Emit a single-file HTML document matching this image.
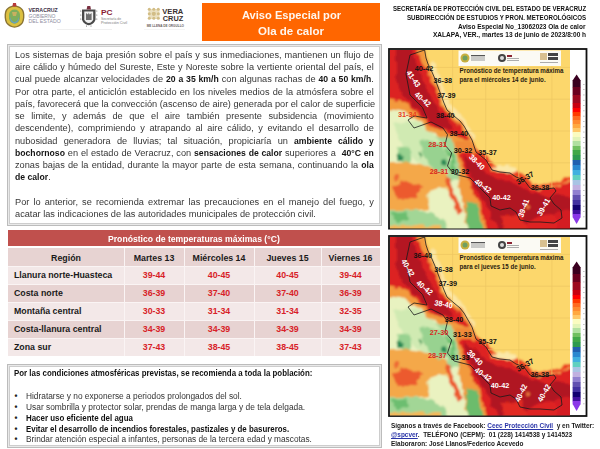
<!DOCTYPE html>
<html><head><meta charset="utf-8"><style>
html,body{margin:0;padding:0;background:#fff;}
body{width:600px;height:449px;position:relative;overflow:hidden;font-family:"Liberation Sans",sans-serif;}
.t{font-family:"Liberation Sans",sans-serif;}
.p b{font-size:9.1px;color:#141414;}
.box{position:absolute;box-sizing:border-box;}
</style></head><body>
<svg style="position:absolute;left:0;top:0" width="200" height="45" viewBox="0 0 200 45">
 <!-- Veracruz shield -->
 <path d="M14.5 5.5 C10 5.5 6 8 5 12 C4.2 15 4.5 20 6 23 C8 26 11.5 27.5 14.5 27.8 C17.5 27.5 21 26 23 23 C24.5 20 24.8 15 24 12 C23 8 19 5.5 14.5 5.5Z" fill="#8a7434"/>
 <path d="M14.5 6.8 C10.5 6.8 7.2 9 6.3 12.5 C5.6 15.3 5.9 19.5 7.2 22.2 C9 25 12 26.3 14.5 26.5 C17 26.3 20 25 21.8 22.2 C23.1 19.5 23.4 15.3 22.7 12.5 C21.8 9 18.5 6.8 14.5 6.8Z" fill="#dcc040"/>
 <path d="M14.5 9.5 C11.5 9.5 9.3 11.5 9 14.5 L9 18.5 C9.4 21.6 11.8 23.5 14.5 23.8 C17.2 23.5 19.6 21.6 20 18.5 L20 14.5 C19.7 11.5 17.5 9.5 14.5 9.5Z" fill="#7fae5c"/>
 <path d="M10 17 C11 20.5 13 22 14.5 22 C16 22 18 20.5 19 17 L19 19 C18.3 22 16.5 23.3 14.5 23.4 C12.5 23.3 10.7 22 10 19Z" fill="#6aa0c0"/>
 <path d="M12 12 L17 12 L16 16 L13 16Z" fill="#c8b060"/>
 <path d="M13 3 L16 3 L16.5 6.5 L12.5 6.5Z" fill="#b83a3a"/>
 <text x="28.5" y="11.8" font-family="Liberation Sans" font-weight="bold" font-size="4.9" fill="#3d3045" textLength="29.3" lengthAdjust="spacingAndGlyphs">VERACRUZ</text>
 <text x="28.5" y="17.6" font-family="Liberation Sans" font-size="5.3" fill="#8e8ca0" textLength="27" lengthAdjust="spacingAndGlyphs">GOBIERNO</text>
 <text x="28.5" y="23.4" font-family="Liberation Sans" font-size="5.3" fill="#8e8ca0" textLength="32.2" lengthAdjust="spacingAndGlyphs">DEL ESTADO</text>
 <!-- PC emblem -->
 <path d="M82 9.5 L95.5 9.5 L95.5 19.5 C95 22.5 92 24.8 88.8 25.3 C85.5 24.8 82.5 22.5 82 19.5Z" fill="#4a4a4a"/>
 <path d="M84.3 11.5 L93.2 11.5 L93.2 19.2 C92.8 21.3 91 22.8 88.8 23.1 C86.5 22.8 84.7 21.3 84.3 19.2Z" fill="#f0f0f0"/>
 <path d="M86 13 L88 14.5 L88.8 12.5 L89.6 14.5 L91.6 13 L91.6 20 L86 20Z" fill="#707070"/>
 <path d="M87.3 6 L90.3 6 L91 9.5 L86.6 9.5Z" fill="#7a3040"/>
 <g fill="#555"><circle cx="80.8" cy="11" r="0.5"/><circle cx="80.8" cy="15" r="0.5"/><circle cx="80.8" cy="19" r="0.5"/><circle cx="96.8" cy="11" r="0.5"/><circle cx="96.8" cy="15" r="0.5"/><circle cx="96.8" cy="19" r="0.5"/><circle cx="86.5" cy="26" r="0.5"/><circle cx="91" cy="26" r="0.5"/></g>
 <text x="101" y="15.2" font-family="Liberation Sans" font-weight="bold" font-size="6.8" fill="#8b2332" textLength="11.6" lengthAdjust="spacingAndGlyphs">PC</text>
 <text x="101" y="20" font-family="Liberation Sans" font-size="3.3" fill="#7a7a7a" textLength="20" lengthAdjust="spacingAndGlyphs">Secretaría de</text>
 <text x="101" y="24" font-family="Liberation Sans" font-size="3.3" fill="#7a7a7a" textLength="26" lengthAdjust="spacingAndGlyphs">Protección Civil</text>
 <!-- VERACRUZ marca -->
 <g fill="#d2bd86">
  <rect x="148.5" y="9" width="11" height="10" fill="#ebe0c0"/>
  <circle cx="149.3" cy="9.3" r="1.5"/><circle cx="153.8" cy="9.3" r="1.5"/><circle cx="158.3" cy="9.3" r="1.5"/>
  <circle cx="149.3" cy="13.8" r="1.5"/><circle cx="153.8" cy="13.8" r="2.1"/><circle cx="158.3" cy="13.8" r="1.5"/>
  <circle cx="149.3" cy="18.3" r="1.5"/><circle cx="153.8" cy="18.3" r="1.5"/><circle cx="158.3" cy="18.3" r="1.5"/>
 </g>
 <text x="162.3" y="13.5" font-family="Liberation Sans" font-weight="bold" font-size="7" fill="#3a3030" textLength="21" lengthAdjust="spacingAndGlyphs">VERA</text>
 <text x="162.8" y="20.5" font-family="Liberation Sans" font-weight="bold" font-size="7" fill="#3a3030" textLength="20.5" lengthAdjust="spacingAndGlyphs">CRUZ</text>
 <text x="146.7" y="27.4" font-family="Liberation Sans" font-weight="bold" font-size="2.8" fill="#6a6060" textLength="37.3" lengthAdjust="spacingAndGlyphs">ME LLENA DE ORGULLO</text>
 <rect x="57" y="29.3" width="55" height="0.6" fill="#e6e6e6"/>
 <rect x="144" y="29.3" width="41" height="0.6" fill="#eeeeee"/>
</svg>

<div class="box" style="left:202px;top:3px;width:178px;height:38px;background:#ff6600;"></div>
<div class="box" style="left:7px;top:44px;width:374.5px;height:182px;border:1px solid #bcbcbc;background:#e9e9e9;"><div class="box" style="left:1px;top:1px;right:1px;bottom:1px;border:1px solid #cdcdcd;background:#fff;"></div></div>
<div class="box" style="left:7px;top:364px;width:374.5px;height:84px;border:1px solid #bcbcbc;background:#e9e9e9;"><div class="box" style="left:1px;top:1px;right:1px;bottom:1px;border:1px solid #cdcdcd;background:#fff;"></div></div>
<div class="box" style="left:8px;top:230px;width:372px;height:16px;background:#c0504d;"></div>
<div class="box" style="left:8px;top:248px;width:372px;height:108px;background:#faf4f4;"></div>
<div class="box" style="left:8px;top:248px;width:116px;height:18px;background:#e7d3d2;"></div>
<div class="box" style="left:125px;top:248px;width:59px;height:18px;background:#e7d3d2;"></div>
<div class="box" style="left:185px;top:248px;width:69px;height:18px;background:#e7d3d2;"></div>
<div class="box" style="left:255px;top:248px;width:66px;height:18px;background:#e7d3d2;"></div>
<div class="box" style="left:322px;top:248px;width:58px;height:18px;background:#e7d3d2;"></div>
<div class="box" style="left:8px;top:267px;width:116px;height:17px;background:#f3e8e8;"></div>
<div class="box" style="left:125px;top:267px;width:59px;height:17px;background:#f3e8e8;"></div>
<div class="box" style="left:185px;top:267px;width:69px;height:17px;background:#f3e8e8;"></div>
<div class="box" style="left:255px;top:267px;width:66px;height:17px;background:#f3e8e8;"></div>
<div class="box" style="left:322px;top:267px;width:58px;height:17px;background:#f3e8e8;"></div>
<div class="box" style="left:8px;top:285px;width:116px;height:17px;background:#e7d3d2;"></div>
<div class="box" style="left:125px;top:285px;width:59px;height:17px;background:#e7d3d2;"></div>
<div class="box" style="left:185px;top:285px;width:69px;height:17px;background:#e7d3d2;"></div>
<div class="box" style="left:255px;top:285px;width:66px;height:17px;background:#e7d3d2;"></div>
<div class="box" style="left:322px;top:285px;width:58px;height:17px;background:#e7d3d2;"></div>
<div class="box" style="left:8px;top:303px;width:116px;height:17px;background:#f3e8e8;"></div>
<div class="box" style="left:125px;top:303px;width:59px;height:17px;background:#f3e8e8;"></div>
<div class="box" style="left:185px;top:303px;width:69px;height:17px;background:#f3e8e8;"></div>
<div class="box" style="left:255px;top:303px;width:66px;height:17px;background:#f3e8e8;"></div>
<div class="box" style="left:322px;top:303px;width:58px;height:17px;background:#f3e8e8;"></div>
<div class="box" style="left:8px;top:321px;width:116px;height:17px;background:#e7d3d2;"></div>
<div class="box" style="left:125px;top:321px;width:59px;height:17px;background:#e7d3d2;"></div>
<div class="box" style="left:185px;top:321px;width:69px;height:17px;background:#e7d3d2;"></div>
<div class="box" style="left:255px;top:321px;width:66px;height:17px;background:#e7d3d2;"></div>
<div class="box" style="left:322px;top:321px;width:58px;height:17px;background:#e7d3d2;"></div>
<div class="box" style="left:8px;top:339px;width:116px;height:17px;background:#f3e8e8;"></div>
<div class="box" style="left:125px;top:339px;width:59px;height:17px;background:#f3e8e8;"></div>
<div class="box" style="left:185px;top:339px;width:69px;height:17px;background:#f3e8e8;"></div>
<div class="box" style="left:255px;top:339px;width:66px;height:17px;background:#f3e8e8;"></div>
<div class="box" style="left:322px;top:339px;width:58px;height:17px;background:#f3e8e8;"></div>
<svg style="position:absolute;left:0;top:0" width="600" height="449" viewBox="0 0 600 449">
<defs><clipPath id="seaclip"><polygon points="425.0,40.0 426.0,58.0 428.0,64.0 432.0,72.0 435.0,79.0 438.0,87.0 441.0,95.0 444.0,103.0 447.0,110.0 454.0,116.0 460.0,121.0 464.0,126.0 468.0,133.0 472.0,140.0 476.0,152.0 486.0,160.0 492.0,170.0 500.0,172.0 510.0,173.0 516.0,177.0 524.0,180.0 530.0,188.0 536.0,190.0 546.0,189.0 554.0,188.0 556.0,191.0 560.0,186.0 570.0,182.0 590.0,180.0 590.0,40.0"/></clipPath><filter id="bl" x="370" y="30" width="230" height="230" filterUnits="userSpaceOnUse"><feTurbulence type="fractalNoise" baseFrequency="0.12" numOctaves="2" seed="3" result="n"/><feDisplacementMap in="SourceGraphic" in2="n" scale="7" xChannelSelector="R" yChannelSelector="G" result="d"/><feGaussianBlur in="d" stdDeviation="0.9"/></filter></defs>
<rect x="389" y="49" width="197.5" height="179.6" fill="#fff" stroke="#111" stroke-width="1.8"/>
<clipPath id="c1"><rect x="390" y="50" width="180" height="178.4"/></clipPath>
<g clip-path="url(#c1)"><g transform="translate(0,0)"><g filter="url(#bl)"><rect x="380" y="40" width="200" height="200" fill="#fcd76c"/>
<polyline points="470.0,140.0 476.0,150.0 486.0,158.0 492.0,167.0 500.0,169.0 510.0,170.0 516.0,174.0 524.0,177.0 530.0,185.0 536.0,187.0 546.0,186.0 554.0,185.0 562.0,182.0 570.0,179.0 576.0,177.0" fill="none" stroke="#ec4424" stroke-width="4"/>
<polygon points="492.0,168.0 500.0,165.0 514.0,166.0 516.0,172.0 500.0,172.0" fill="#fbe8a8" />
<polyline points="431.0,62.0 437.0,77.0 443.0,92.0 449.0,106.0 457.0,116.0 466.0,127.0 474.0,141.0" fill="none" stroke="#fbe6a4" stroke-width="5"/>
<polygon points="380.0,40.0 425.0,44.0 425.0,50.0 428.0,64.0 435.0,79.0 441.0,95.0 447.0,110.0 454.0,116.0 464.0,126.0 472.0,140.0 476.0,152.0 486.0,160.0 492.0,170.0 500.0,172.0 510.0,173.0 516.0,177.0 524.0,180.0 530.0,188.0 536.0,190.0 546.0,189.0 554.0,188.0 562.0,185.0 570.0,182.0 576.0,180.0 580.0,240.0 380.0,240.0" fill="#f39a3c" />
<polygon points="380.0,108.0 405.0,112.0 420.0,122.0 432.0,132.0 445.0,140.0 450.0,150.0 455.0,165.0 458.0,180.0 462.0,200.0 470.0,240.0 380.0,240.0" fill="#e8f2c0" />
<polygon points="380.0,40.0 416.0,40.0 417.0,50.0 423.0,64.0 430.0,79.0 437.0,95.0 444.0,110.0 451.0,117.0 461.0,127.0 469.0,140.0 456.0,136.0 444.0,132.0 432.0,126.0 420.0,116.0 410.0,106.0 400.0,100.0 380.0,97.0" fill="#dc2020" />
<polygon points="396.0,44.0 410.0,44.0 418.0,68.0 425.0,85.0 432.0,100.0 440.0,112.0 450.0,121.0 452.0,130.0 438.0,128.0 424.0,116.0 412.0,104.0 402.0,95.0 396.0,78.0" fill="#b41420" />
<polygon points="462.0,146.0 470.0,146.0 476.0,152.0 486.0,160.0 492.0,170.0 500.0,172.0 510.0,173.0 516.0,177.0 524.0,180.0 530.0,188.0 536.0,190.0 546.0,189.0 554.0,188.0 562.0,185.0 570.0,182.0 580.0,180.0 580.0,240.0 490.0,240.0 480.0,205.0 472.0,190.0 466.0,175.0 462.0,160.0" fill="#de2020" />
<polygon points="468.0,160.0 480.0,168.0 494.0,178.0 510.0,182.0 524.0,188.0 540.0,196.0 560.0,196.0 580.0,198.0 580.0,216.0 560.0,214.0 540.0,216.0 520.0,230.0 500.0,232.0 490.0,215.0 480.0,196.0 472.0,182.0" fill="#b01420" />
<circle cx="528" cy="207" r="2" fill="#f08040"/>
<polygon points="500.0,216.0 520.0,214.0 530.0,230.0 505.0,232.0" fill="#e22a20" />
<polygon points="555.0,212.0 580.0,209.0 580.0,240.0 560.0,240.0" fill="#d41c20" />
<polygon points="454.0,141.0 468.0,141.0 476.0,152.0 470.0,154.0 458.0,153.0" fill="#f08a38" />
<polygon points="458.0,152.0 472.0,152.0 480.0,160.0 486.0,170.0 470.0,175.0 462.0,168.0" fill="#de2020" />
<polygon points="462.0,156.0 474.0,160.0 482.0,170.0 478.0,182.0 470.0,178.0" fill="#b01420" />
<polygon points="436.0,136.0 450.0,138.0 456.0,150.0 458.0,165.0 460.0,180.0 450.0,182.0 440.0,170.0" fill="#a6d89a" />
<polygon points="446.0,150.0 454.0,152.0 456.0,170.0 448.0,172.0" fill="#6cc070" />
<circle cx="446" cy="165" r="2.2" fill="#2a70a0"/>
<polygon points="394.0,124.0 414.0,120.0 430.0,130.0 442.0,144.0 452.0,160.0 448.0,174.0 432.0,170.0 416.0,160.0 402.0,146.0" fill="#d0eab2" />
<polygon points="420.0,140.0 438.0,142.0 448.0,154.0 452.0,168.0 440.0,172.0 426.0,162.0" fill="#98d290" />
<polygon points="398.0,146.0 410.0,148.0 412.0,166.0 402.0,168.0" fill="#98d290" />
<circle cx="400" cy="158" r="2.8" fill="#2a8a55"/>
<circle cx="421" cy="156" r="2" fill="#3a9a58"/>
<circle cx="444" cy="162" r="2.8" fill="#2a8a55"/>
<polygon points="380.0,164.0 410.0,162.0 430.0,166.0 446.0,174.0 450.0,190.0 440.0,208.0 420.0,210.0 380.0,212.0" fill="#f4a848" />
<polygon points="393.0,186.0 405.0,181.0 421.0,186.0 418.0,198.0 398.0,199.0" fill="#ec5a2e" />
<circle cx="397" cy="178" r="3" fill="#ee6a34"/>
<polygon points="428.0,190.0 445.0,186.0 452.0,200.0 450.0,227.0 430.0,227.0" fill="#eaf2c0" />
<polygon points="380.0,212.0 415.0,210.0 435.0,214.0 445.0,222.0 448.0,240.0 380.0,240.0" fill="#a2d696" />
<polygon points="392.0,214.0 404.0,212.0 410.0,220.0 398.0,222.0" fill="#6cbe70" />
<polyline points="446.0,178.0 452.0,192.0 460.0,212.0" fill="none" stroke="#ec5a2e" stroke-width="4.5"/>
<polygon points="380.0,226.0 440.0,225.0 450.0,240.0 380.0,240.0" fill="#f4b858" />
<polygon points="466.0,200.0 478.0,204.0 486.0,240.0 468.0,240.0" fill="#6cbc6c" /></g><g clip-path="url(#seaclip)" stroke="#eec562" stroke-width="0.7"><line x1="452.6" y1="40" x2="452.6" y2="240"/><line x1="485.7" y1="40" x2="485.7" y2="240"/><line x1="518.8" y1="40" x2="518.8" y2="240"/><line x1="551.9" y1="40" x2="551.9" y2="240"/><line x1="380" y1="67.4" x2="580" y2="67.4"/><line x1="380" y1="99.2" x2="580" y2="99.2"/><line x1="380" y1="131" x2="580" y2="131"/><line x1="380" y1="162.8" x2="580" y2="162.8"/><line x1="380" y1="194.6" x2="580" y2="194.6"/><line x1="380" y1="226.4" x2="580" y2="226.4"/></g><polyline points="424.6,50.0 426.0,58.0 428.0,64.0 432.0,72.0 435.0,79.0 438.0,87.0 441.0,95.0 444.0,103.0 447.0,110.0 454.0,116.0 460.0,121.0 464.0,126.0 468.0,133.0 472.0,140.0 476.0,152.0 486.0,160.0 492.0,170.0 500.0,172.0 510.0,173.0 516.0,177.0 524.0,180.0 530.0,188.0 536.0,190.0 546.0,189.0 554.0,188.0 556.0,191.0 556.0,191.0 550.0,198.0 554.0,204.0 561.0,210.0 562.0,218.0 554.0,223.0 540.0,222.0 530.0,222.0 520.0,220.0 516.0,212.0 510.0,208.0 500.0,210.0 491.0,206.0 490.0,198.0 480.0,188.0 470.0,178.0 462.0,176.0 454.0,174.0 447.5,166.0 451.7,153.0 445.0,145.0 447.5,134.6 443.0,128.0 431.0,122.0 414.0,128.0 408.0,120.0 414.0,116.0 427.0,118.0 422.5,107.5 410.0,95.0 406.0,74.0 410.0,55.0 424.6,50.0" fill="none" stroke="#1a1a1a" stroke-width="0.8"/></g></g>
<rect x="458.5" y="50.5" width="102.5" height="15.5" fill="#fbfaf4"/>
<circle cx="465" cy="58" r="4.5" fill="#c8b040"/><circle cx="465" cy="58" r="2.5" fill="#70a060"/>
<rect x="471" y="55" width="14" height="1.3" fill="#555"/><rect x="471" y="57.5" width="14" height="1" fill="#999"/><rect x="471" y="59.5" width="14" height="1" fill="#999"/>
<circle cx="502" cy="58" r="4" fill="#444"/><circle cx="502" cy="58" r="2" fill="#ddd"/>
<rect x="507" y="55" width="5" height="2" fill="#8b2332"/><rect x="507" y="58" width="12" height="0.8" fill="#999"/><rect x="507" y="60" width="12" height="0.8" fill="#999"/>
<rect x="540" y="53" width="7" height="7" fill="#d8c090"/><rect x="548" y="53" width="10" height="3" fill="#444"/><rect x="548" y="57" width="10" height="3" fill="#444"/><rect x="540" y="62" width="18" height="0.8" fill="#999"/>
<text x="459.6" y="73.4" font-family="Liberation Sans" font-weight="bold" font-size="7" fill="#2a1c10" textLength="103.9" lengthAdjust="spacingAndGlyphs">Pronóstico de temperatura máxima</text>
<text x="459.6" y="82.2" font-family="Liberation Sans" font-weight="bold" font-size="7" fill="#2a1c10" textLength="86" lengthAdjust="spacingAndGlyphs">para el miércoles 14 de junio.</text>
<rect x="572.6" y="80" width="8" height="7.3" fill="#3a0020"/>
<rect x="572.6" y="87" width="8" height="8.3" fill="#6a0020"/>
<rect x="572.6" y="95" width="8" height="8.3" fill="#9c0820"/>
<rect x="572.6" y="103" width="8" height="5.3" fill="#c80010"/>
<rect x="572.6" y="108" width="8" height="4.3" fill="#ff0000"/>
<rect x="572.6" y="112" width="8" height="4.3" fill="#ff3a00"/>
<rect x="572.6" y="116" width="8" height="4.3" fill="#ff6a20"/>
<rect x="572.6" y="120" width="8" height="4.3" fill="#ff8a30"/>
<rect x="572.6" y="124" width="8" height="4.3" fill="#ffa840"/>
<rect x="572.6" y="128" width="8" height="4.3" fill="#ffc868"/>
<rect x="572.6" y="132" width="8" height="5.3" fill="#fafcc0"/>
<rect x="572.6" y="137" width="8" height="4.3" fill="#e2f4b8"/>
<rect x="572.6" y="141" width="8" height="5.3" fill="#b0e0a0"/>
<rect x="572.6" y="146" width="8" height="4.3" fill="#70c060"/>
<rect x="572.6" y="150" width="8" height="5.3" fill="#40a848"/>
<rect x="572.6" y="155" width="8" height="5.3" fill="#2c9a50"/>
<rect x="572.6" y="160" width="8" height="5.3" fill="#2060b0"/>
<rect x="572.6" y="165" width="8" height="5.3" fill="#2a88d0"/>
<rect x="572.6" y="170" width="8" height="5.3" fill="#40b0e0"/>
<rect x="572.6" y="175" width="8" height="5.3" fill="#60d0c0"/>
<rect x="572.6" y="180" width="8" height="5.3" fill="#a8c4e4"/>
<rect x="572.6" y="185" width="8" height="5.3" fill="#c0b0e0"/>
<rect x="572.6" y="190" width="8" height="5.3" fill="#9080d0"/>
<rect x="572.6" y="195" width="8" height="5.3" fill="#6050b0"/>
<rect x="572.6" y="200" width="8" height="5.3" fill="#4030a0"/>
<rect x="572.6" y="205" width="8" height="5.3" fill="#100070"/>
<rect x="572.6" y="210" width="8" height="4.3" fill="#4010a0"/>
<rect x="572.6" y="214" width="8" height="3.3" fill="#8a38e8"/>
<polygon points="572.6,80.5 576.6,74.4 580.6,80.5" fill="#3a0020"/>
<polygon points="572.6,217 580.6,217 576.6,224" fill="#8a38e8"/>
<rect x="583" y="84.0" width="1.6" height="0.7" fill="#aaa"/>
<rect x="583" y="89.3" width="1.6" height="0.7" fill="#aaa"/>
<rect x="583" y="94.6" width="1.6" height="0.7" fill="#aaa"/>
<rect x="583" y="99.9" width="1.6" height="0.7" fill="#aaa"/>
<rect x="583" y="105.2" width="1.6" height="0.7" fill="#aaa"/>
<rect x="583" y="110.5" width="1.6" height="0.7" fill="#aaa"/>
<rect x="583" y="115.8" width="1.6" height="0.7" fill="#aaa"/>
<rect x="583" y="121.1" width="1.6" height="0.7" fill="#aaa"/>
<rect x="583" y="126.4" width="1.6" height="0.7" fill="#aaa"/>
<rect x="583" y="131.7" width="1.6" height="0.7" fill="#aaa"/>
<rect x="583" y="137.0" width="1.6" height="0.7" fill="#aaa"/>
<rect x="583" y="142.3" width="1.6" height="0.7" fill="#aaa"/>
<rect x="583" y="147.6" width="1.6" height="0.7" fill="#aaa"/>
<rect x="583" y="152.89999999999998" width="1.6" height="0.7" fill="#aaa"/>
<rect x="583" y="158.2" width="1.6" height="0.7" fill="#aaa"/>
<rect x="583" y="163.5" width="1.6" height="0.7" fill="#aaa"/>
<rect x="583" y="168.8" width="1.6" height="0.7" fill="#aaa"/>
<rect x="583" y="174.1" width="1.6" height="0.7" fill="#aaa"/>
<rect x="583" y="179.39999999999998" width="1.6" height="0.7" fill="#aaa"/>
<rect x="583" y="184.7" width="1.6" height="0.7" fill="#aaa"/>
<rect x="583" y="190.0" width="1.6" height="0.7" fill="#aaa"/>
<rect x="583" y="195.3" width="1.6" height="0.7" fill="#aaa"/>
<rect x="583" y="200.6" width="1.6" height="0.7" fill="#aaa"/>
<rect x="583" y="205.89999999999998" width="1.6" height="0.7" fill="#aaa"/>
<rect x="583" y="211.2" width="1.6" height="0.7" fill="#aaa"/>
<rect x="583" y="216.5" width="1.6" height="0.7" fill="#aaa"/>
<text x="414.7" y="71.3" font-family="Liberation Sans" font-weight="bold" font-size="7.8" fill="#111" textLength="18.6" lengthAdjust="spacingAndGlyphs">40-42</text>
<text x="433.5" y="83.2" font-family="Liberation Sans" font-weight="bold" font-size="7.8" fill="#111" textLength="18.6" lengthAdjust="spacingAndGlyphs">36-38</text>
<text x="437.0" y="98.3" font-family="Liberation Sans" font-weight="bold" font-size="7.8" fill="#111" textLength="18.6" lengthAdjust="spacingAndGlyphs">37-39</text>
<text x="436.0" y="118.4" font-family="Liberation Sans" font-weight="bold" font-size="7.8" fill="#111" textLength="18.6" lengthAdjust="spacingAndGlyphs">38-40</text>
<text x="449.5" y="135.8" font-family="Liberation Sans" font-weight="bold" font-size="7.8" fill="#111" textLength="18.6" lengthAdjust="spacingAndGlyphs">38-40</text>
<text x="404.3" y="81.5" font-family="Liberation Sans" font-weight="bold" font-size="7.8" fill="#fff" textLength="18.6" lengthAdjust="spacingAndGlyphs" transform="rotate(55 413.6 78.7)">41-43</text>
<text x="413.5" y="102.0" font-family="Liberation Sans" font-weight="bold" font-size="7.8" fill="#fff" textLength="18.6" lengthAdjust="spacingAndGlyphs" transform="rotate(40 422.8 99.2)">40-42</text>
<text x="398.0" y="117.4" font-family="Liberation Sans" font-weight="bold" font-size="7.8" fill="#e8401e" textLength="18.6" lengthAdjust="spacingAndGlyphs">31-34</text>
<text x="428.2" y="146.5" font-family="Liberation Sans" font-weight="bold" font-size="7.8" fill="#d8281e" textLength="18.6" lengthAdjust="spacingAndGlyphs">28-31</text>
<text x="453.7" y="152.5" font-family="Liberation Sans" font-weight="bold" font-size="7.8" fill="#111" textLength="18.6" lengthAdjust="spacingAndGlyphs">30-32</text>
<text x="429.7" y="173.8" font-family="Liberation Sans" font-weight="bold" font-size="7.8" fill="#d8281e" textLength="18.6" lengthAdjust="spacingAndGlyphs">28-31</text>
<text x="450.7" y="173.8" font-family="Liberation Sans" font-weight="bold" font-size="7.8" fill="#111" textLength="18.6" lengthAdjust="spacingAndGlyphs">30-32</text>
<text x="467.7" y="164.8" font-family="Liberation Sans" font-weight="bold" font-size="7.8" fill="#fff" textLength="18.6" lengthAdjust="spacingAndGlyphs" transform="rotate(45 477 162)">38-40</text>
<text x="478.2" y="154.8" font-family="Liberation Sans" font-weight="bold" font-size="7.8" fill="#111" textLength="18.6" lengthAdjust="spacingAndGlyphs">35-37</text>
<text x="473.7" y="188.5" font-family="Liberation Sans" font-weight="bold" font-size="7.8" fill="#fff" textLength="18.6" lengthAdjust="spacingAndGlyphs" transform="rotate(35 483 185.7)">40-42</text>
<text x="492.2" y="199.8" font-family="Liberation Sans" font-weight="bold" font-size="7.8" fill="#fff" textLength="18.6" lengthAdjust="spacingAndGlyphs">40-42</text>
<text x="514.2" y="210.8" font-family="Liberation Sans" font-weight="bold" font-size="7.8" fill="#fff" textLength="18.6" lengthAdjust="spacingAndGlyphs" transform="rotate(-70 523.5 208)">39-41</text>
<text x="534.2" y="209.8" font-family="Liberation Sans" font-weight="bold" font-size="7.8" fill="#fff" textLength="18.6" lengthAdjust="spacingAndGlyphs" transform="rotate(-60 543.5 207)">39-41</text>
<text x="515.7" y="180.8" font-family="Liberation Sans" font-weight="bold" font-size="7.8" fill="#111" textLength="18.6" lengthAdjust="spacingAndGlyphs" transform="rotate(-30 525 178)">36-37</text>
<text x="530.7" y="189.8" font-family="Liberation Sans" font-weight="bold" font-size="7.8" fill="#111" textLength="18.6" lengthAdjust="spacingAndGlyphs">36-38</text>
<rect x="389" y="236" width="197.5" height="180" fill="#fff" stroke="#111" stroke-width="1.8"/>
<clipPath id="c2"><rect x="390" y="237" width="180" height="178.4"/></clipPath>
<g clip-path="url(#c2)"><g transform="translate(0,187)"><g filter="url(#bl)"><rect x="380" y="40" width="200" height="200" fill="#fcd76c"/>
<polyline points="470.0,140.0 476.0,150.0 486.0,158.0 492.0,167.0 500.0,169.0 510.0,170.0 516.0,174.0 524.0,177.0 530.0,185.0 536.0,187.0 546.0,186.0 554.0,185.0 562.0,182.0 570.0,179.0 576.0,177.0" fill="none" stroke="#ec4424" stroke-width="4"/>
<polygon points="492.0,168.0 500.0,165.0 514.0,166.0 516.0,172.0 500.0,172.0" fill="#fbe8a8" />
<polyline points="431.0,62.0 437.0,77.0 443.0,92.0 449.0,106.0 457.0,116.0 466.0,127.0 474.0,141.0" fill="none" stroke="#fbe6a4" stroke-width="5"/>
<polygon points="380.0,40.0 425.0,44.0 425.0,50.0 428.0,64.0 435.0,79.0 441.0,95.0 447.0,110.0 454.0,116.0 464.0,126.0 472.0,140.0 476.0,152.0 486.0,160.0 492.0,170.0 500.0,172.0 510.0,173.0 516.0,177.0 524.0,180.0 530.0,188.0 536.0,190.0 546.0,189.0 554.0,188.0 562.0,185.0 570.0,182.0 576.0,180.0 580.0,240.0 380.0,240.0" fill="#f39a3c" />
<polygon points="380.0,108.0 405.0,112.0 420.0,122.0 432.0,132.0 445.0,140.0 450.0,150.0 455.0,165.0 458.0,180.0 462.0,200.0 470.0,240.0 380.0,240.0" fill="#e8f2c0" />
<polygon points="380.0,40.0 416.0,40.0 417.0,50.0 423.0,64.0 430.0,79.0 437.0,95.0 444.0,110.0 451.0,117.0 461.0,127.0 469.0,140.0 456.0,136.0 444.0,132.0 432.0,126.0 420.0,116.0 410.0,106.0 400.0,100.0 380.0,97.0" fill="#dc2020" />
<polygon points="396.0,44.0 410.0,44.0 418.0,68.0 425.0,85.0 432.0,100.0 440.0,112.0 450.0,121.0 452.0,130.0 438.0,128.0 424.0,116.0 412.0,104.0 402.0,95.0 396.0,78.0" fill="#b41420" />
<polygon points="462.0,146.0 470.0,146.0 476.0,152.0 486.0,160.0 492.0,170.0 500.0,172.0 510.0,173.0 516.0,177.0 524.0,180.0 530.0,188.0 536.0,190.0 546.0,189.0 554.0,188.0 562.0,185.0 570.0,182.0 580.0,180.0 580.0,240.0 490.0,240.0 480.0,205.0 472.0,190.0 466.0,175.0 462.0,160.0" fill="#de2020" />
<polygon points="468.0,160.0 480.0,168.0 494.0,178.0 510.0,182.0 524.0,188.0 540.0,196.0 560.0,196.0 580.0,198.0 580.0,216.0 560.0,214.0 540.0,216.0 520.0,230.0 500.0,232.0 490.0,215.0 480.0,196.0 472.0,182.0" fill="#b01420" />
<circle cx="528" cy="207" r="2" fill="#f08040"/>
<polygon points="500.0,216.0 520.0,214.0 530.0,230.0 505.0,232.0" fill="#e22a20" />
<polygon points="555.0,212.0 580.0,209.0 580.0,240.0 560.0,240.0" fill="#d41c20" />
<polygon points="454.0,141.0 468.0,141.0 476.0,152.0 470.0,154.0 458.0,153.0" fill="#f08a38" />
<polygon points="458.0,152.0 472.0,152.0 480.0,160.0 486.0,170.0 470.0,175.0 462.0,168.0" fill="#de2020" />
<polygon points="462.0,156.0 474.0,160.0 482.0,170.0 478.0,182.0 470.0,178.0" fill="#b01420" />
<polygon points="436.0,136.0 450.0,138.0 456.0,150.0 458.0,165.0 460.0,180.0 450.0,182.0 440.0,170.0" fill="#a6d89a" />
<polygon points="446.0,150.0 454.0,152.0 456.0,170.0 448.0,172.0" fill="#6cc070" />
<circle cx="446" cy="165" r="2.2" fill="#2a70a0"/>
<polygon points="394.0,124.0 414.0,120.0 430.0,130.0 442.0,144.0 452.0,160.0 448.0,174.0 432.0,170.0 416.0,160.0 402.0,146.0" fill="#d0eab2" />
<polygon points="420.0,140.0 438.0,142.0 448.0,154.0 452.0,168.0 440.0,172.0 426.0,162.0" fill="#98d290" />
<polygon points="398.0,146.0 410.0,148.0 412.0,166.0 402.0,168.0" fill="#98d290" />
<circle cx="400" cy="158" r="2.8" fill="#2a8a55"/>
<circle cx="421" cy="156" r="2" fill="#3a9a58"/>
<circle cx="444" cy="162" r="2.8" fill="#2a8a55"/>
<polygon points="380.0,164.0 410.0,162.0 430.0,166.0 446.0,174.0 450.0,190.0 440.0,208.0 420.0,210.0 380.0,212.0" fill="#f4a848" />
<polygon points="393.0,186.0 405.0,181.0 421.0,186.0 418.0,198.0 398.0,199.0" fill="#ec5a2e" />
<circle cx="397" cy="178" r="3" fill="#ee6a34"/>
<polygon points="428.0,190.0 445.0,186.0 452.0,200.0 450.0,227.0 430.0,227.0" fill="#eaf2c0" />
<polygon points="380.0,212.0 415.0,210.0 435.0,214.0 445.0,222.0 448.0,240.0 380.0,240.0" fill="#a2d696" />
<polygon points="392.0,214.0 404.0,212.0 410.0,220.0 398.0,222.0" fill="#6cbe70" />
<polyline points="446.0,178.0 452.0,192.0 460.0,212.0" fill="none" stroke="#ec5a2e" stroke-width="4.5"/>
<polygon points="380.0,226.0 440.0,225.0 450.0,240.0 380.0,240.0" fill="#f4b858" />
<polygon points="466.0,200.0 478.0,204.0 486.0,240.0 468.0,240.0" fill="#6cbc6c" /></g><g clip-path="url(#seaclip)" stroke="#eec562" stroke-width="0.7"><line x1="452.6" y1="40" x2="452.6" y2="240"/><line x1="485.7" y1="40" x2="485.7" y2="240"/><line x1="518.8" y1="40" x2="518.8" y2="240"/><line x1="551.9" y1="40" x2="551.9" y2="240"/><line x1="380" y1="67.4" x2="580" y2="67.4"/><line x1="380" y1="99.2" x2="580" y2="99.2"/><line x1="380" y1="131" x2="580" y2="131"/><line x1="380" y1="162.8" x2="580" y2="162.8"/><line x1="380" y1="194.6" x2="580" y2="194.6"/><line x1="380" y1="226.4" x2="580" y2="226.4"/></g><polyline points="424.6,50.0 426.0,58.0 428.0,64.0 432.0,72.0 435.0,79.0 438.0,87.0 441.0,95.0 444.0,103.0 447.0,110.0 454.0,116.0 460.0,121.0 464.0,126.0 468.0,133.0 472.0,140.0 476.0,152.0 486.0,160.0 492.0,170.0 500.0,172.0 510.0,173.0 516.0,177.0 524.0,180.0 530.0,188.0 536.0,190.0 546.0,189.0 554.0,188.0 556.0,191.0 556.0,191.0 550.0,198.0 554.0,204.0 561.0,210.0 562.0,218.0 554.0,223.0 540.0,222.0 530.0,222.0 520.0,220.0 516.0,212.0 510.0,208.0 500.0,210.0 491.0,206.0 490.0,198.0 480.0,188.0 470.0,178.0 462.0,176.0 454.0,174.0 447.5,166.0 451.7,153.0 445.0,145.0 447.5,134.6 443.0,128.0 431.0,122.0 414.0,128.0 408.0,120.0 414.0,116.0 427.0,118.0 422.5,107.5 410.0,95.0 406.0,74.0 410.0,55.0 424.6,50.0" fill="none" stroke="#1a1a1a" stroke-width="0.8"/></g></g>
<rect x="458.5" y="237.5" width="102.5" height="15.5" fill="#fbfaf4"/>
<circle cx="465" cy="245" r="4.5" fill="#c8b040"/><circle cx="465" cy="245" r="2.5" fill="#70a060"/>
<rect x="471" y="242" width="14" height="1.3" fill="#555"/><rect x="471" y="244.5" width="14" height="1" fill="#999"/><rect x="471" y="246.5" width="14" height="1" fill="#999"/>
<circle cx="502" cy="245" r="4" fill="#444"/><circle cx="502" cy="245" r="2" fill="#ddd"/>
<rect x="507" y="242" width="5" height="2" fill="#8b2332"/><rect x="507" y="245" width="12" height="0.8" fill="#999"/><rect x="507" y="247" width="12" height="0.8" fill="#999"/>
<rect x="540" y="240" width="7" height="7" fill="#d8c090"/><rect x="548" y="240" width="10" height="3" fill="#444"/><rect x="548" y="244" width="10" height="3" fill="#444"/><rect x="540" y="249" width="18" height="0.8" fill="#999"/>
<text x="459.6" y="260.4" font-family="Liberation Sans" font-weight="bold" font-size="7" fill="#2a1c10" textLength="103.9" lengthAdjust="spacingAndGlyphs">Pronóstico de temperatura máxima</text>
<text x="459.6" y="269.2" font-family="Liberation Sans" font-weight="bold" font-size="7" fill="#2a1c10" textLength="76" lengthAdjust="spacingAndGlyphs">para el jueves 15 de junio.</text>
<rect x="572.6" y="267" width="8" height="7.3" fill="#3a0020"/>
<rect x="572.6" y="274" width="8" height="8.3" fill="#6a0020"/>
<rect x="572.6" y="282" width="8" height="8.3" fill="#9c0820"/>
<rect x="572.6" y="290" width="8" height="5.3" fill="#c80010"/>
<rect x="572.6" y="295" width="8" height="4.3" fill="#ff0000"/>
<rect x="572.6" y="299" width="8" height="4.3" fill="#ff3a00"/>
<rect x="572.6" y="303" width="8" height="4.3" fill="#ff6a20"/>
<rect x="572.6" y="307" width="8" height="4.3" fill="#ff8a30"/>
<rect x="572.6" y="311" width="8" height="4.3" fill="#ffa840"/>
<rect x="572.6" y="315" width="8" height="4.3" fill="#ffc868"/>
<rect x="572.6" y="319" width="8" height="5.3" fill="#fafcc0"/>
<rect x="572.6" y="324" width="8" height="4.3" fill="#e2f4b8"/>
<rect x="572.6" y="328" width="8" height="5.3" fill="#b0e0a0"/>
<rect x="572.6" y="333" width="8" height="4.3" fill="#70c060"/>
<rect x="572.6" y="337" width="8" height="5.3" fill="#40a848"/>
<rect x="572.6" y="342" width="8" height="5.3" fill="#2c9a50"/>
<rect x="572.6" y="347" width="8" height="5.3" fill="#2060b0"/>
<rect x="572.6" y="352" width="8" height="5.3" fill="#2a88d0"/>
<rect x="572.6" y="357" width="8" height="5.3" fill="#40b0e0"/>
<rect x="572.6" y="362" width="8" height="5.3" fill="#60d0c0"/>
<rect x="572.6" y="367" width="8" height="5.3" fill="#a8c4e4"/>
<rect x="572.6" y="372" width="8" height="5.3" fill="#c0b0e0"/>
<rect x="572.6" y="377" width="8" height="5.3" fill="#9080d0"/>
<rect x="572.6" y="382" width="8" height="5.3" fill="#6050b0"/>
<rect x="572.6" y="387" width="8" height="5.3" fill="#4030a0"/>
<rect x="572.6" y="392" width="8" height="5.3" fill="#100070"/>
<rect x="572.6" y="397" width="8" height="4.3" fill="#4010a0"/>
<rect x="572.6" y="401" width="8" height="3.3" fill="#8a38e8"/>
<polygon points="572.6,267.5 576.6,261.4 580.6,267.5" fill="#3a0020"/>
<polygon points="572.6,404 580.6,404 576.6,411" fill="#8a38e8"/>
<rect x="583" y="271.0" width="1.6" height="0.7" fill="#aaa"/>
<rect x="583" y="276.3" width="1.6" height="0.7" fill="#aaa"/>
<rect x="583" y="281.6" width="1.6" height="0.7" fill="#aaa"/>
<rect x="583" y="286.9" width="1.6" height="0.7" fill="#aaa"/>
<rect x="583" y="292.2" width="1.6" height="0.7" fill="#aaa"/>
<rect x="583" y="297.5" width="1.6" height="0.7" fill="#aaa"/>
<rect x="583" y="302.8" width="1.6" height="0.7" fill="#aaa"/>
<rect x="583" y="308.1" width="1.6" height="0.7" fill="#aaa"/>
<rect x="583" y="313.4" width="1.6" height="0.7" fill="#aaa"/>
<rect x="583" y="318.7" width="1.6" height="0.7" fill="#aaa"/>
<rect x="583" y="324.0" width="1.6" height="0.7" fill="#aaa"/>
<rect x="583" y="329.3" width="1.6" height="0.7" fill="#aaa"/>
<rect x="583" y="334.6" width="1.6" height="0.7" fill="#aaa"/>
<rect x="583" y="339.9" width="1.6" height="0.7" fill="#aaa"/>
<rect x="583" y="345.2" width="1.6" height="0.7" fill="#aaa"/>
<rect x="583" y="350.5" width="1.6" height="0.7" fill="#aaa"/>
<rect x="583" y="355.8" width="1.6" height="0.7" fill="#aaa"/>
<rect x="583" y="361.1" width="1.6" height="0.7" fill="#aaa"/>
<rect x="583" y="366.4" width="1.6" height="0.7" fill="#aaa"/>
<rect x="583" y="371.7" width="1.6" height="0.7" fill="#aaa"/>
<rect x="583" y="377.0" width="1.6" height="0.7" fill="#aaa"/>
<rect x="583" y="382.3" width="1.6" height="0.7" fill="#aaa"/>
<rect x="583" y="387.6" width="1.6" height="0.7" fill="#aaa"/>
<rect x="583" y="392.9" width="1.6" height="0.7" fill="#aaa"/>
<rect x="583" y="398.2" width="1.6" height="0.7" fill="#aaa"/>
<rect x="583" y="403.5" width="1.6" height="0.7" fill="#aaa"/>
<text x="413.4" y="257.8" font-family="Liberation Sans" font-weight="bold" font-size="7.8" fill="#111" textLength="18.6" lengthAdjust="spacingAndGlyphs">36-40</text>
<text x="398.7" y="270.4" font-family="Liberation Sans" font-weight="bold" font-size="7.8" fill="#fff" textLength="18.6" lengthAdjust="spacingAndGlyphs" transform="rotate(60 408 267.6)">40-42</text>
<text x="434.3" y="271.6" font-family="Liberation Sans" font-weight="bold" font-size="7.8" fill="#111" textLength="18.6" lengthAdjust="spacingAndGlyphs">36-38</text>
<text x="415.4" y="290.4" font-family="Liberation Sans" font-weight="bold" font-size="7.8" fill="#fff" textLength="18.6" lengthAdjust="spacingAndGlyphs" transform="rotate(40 424.7 287.6)">40-42</text>
<text x="438.5" y="285.8" font-family="Liberation Sans" font-weight="bold" font-size="7.8" fill="#111" textLength="18.6" lengthAdjust="spacingAndGlyphs">37-39</text>
<text x="434.3" y="306.8" font-family="Liberation Sans" font-weight="bold" font-size="7.8" fill="#fff" textLength="18.6" lengthAdjust="spacingAndGlyphs" transform="rotate(10 443.6 304)">38-40</text>
<text x="444.7" y="321.8" font-family="Liberation Sans" font-weight="bold" font-size="7.8" fill="#111" textLength="18.6" lengthAdjust="spacingAndGlyphs">38-40</text>
<text x="429.7" y="335.2" font-family="Liberation Sans" font-weight="bold" font-size="7.8" fill="#d8281e" textLength="18.6" lengthAdjust="spacingAndGlyphs">27-30</text>
<text x="453.1" y="337.3" font-family="Liberation Sans" font-weight="bold" font-size="7.8" fill="#111" textLength="18.6" lengthAdjust="spacingAndGlyphs">31-33</text>
<text x="478.2" y="344.4" font-family="Liberation Sans" font-weight="bold" font-size="7.8" fill="#111" textLength="18.6" lengthAdjust="spacingAndGlyphs">35-37</text>
<text x="428.0" y="358.2" font-family="Liberation Sans" font-weight="bold" font-size="7.8" fill="#d8281e" textLength="18.6" lengthAdjust="spacingAndGlyphs">28-37</text>
<text x="451.0" y="359.5" font-family="Liberation Sans" font-weight="bold" font-size="7.8" fill="#111" textLength="18.6" lengthAdjust="spacingAndGlyphs">31-33</text>
<text x="465.7" y="360.3" font-family="Liberation Sans" font-weight="bold" font-size="7.8" fill="#fff" textLength="18.6" lengthAdjust="spacingAndGlyphs" transform="rotate(45 475 357.5)">38-40</text>
<text x="474.0" y="377.1" font-family="Liberation Sans" font-weight="bold" font-size="7.8" fill="#fff" textLength="18.6" lengthAdjust="spacingAndGlyphs" transform="rotate(35 483.3 374.3)">40-42</text>
<text x="490.7" y="387.5" font-family="Liberation Sans" font-weight="bold" font-size="7.8" fill="#fff" textLength="18.6" lengthAdjust="spacingAndGlyphs">40-42</text>
<text x="515.7" y="367.8" font-family="Liberation Sans" font-weight="bold" font-size="7.8" fill="#111" textLength="18.6" lengthAdjust="spacingAndGlyphs" transform="rotate(-30 525 365)">36-37</text>
<text x="530.5" y="377.1" font-family="Liberation Sans" font-weight="bold" font-size="7.8" fill="#111" textLength="18.6" lengthAdjust="spacingAndGlyphs">36-38</text>
<text x="511.7" y="395.8" font-family="Liberation Sans" font-weight="bold" font-size="7.8" fill="#fff" textLength="18.6" lengthAdjust="spacingAndGlyphs" transform="rotate(-65 521 393)">40-42</text>
<text x="534.7" y="395.8" font-family="Liberation Sans" font-weight="bold" font-size="7.8" fill="#fff" textLength="18.6" lengthAdjust="spacingAndGlyphs" transform="rotate(-60 544 393)">40-42</text>
</svg>
<div class="t" style="position:absolute;top:5.17px;font-size:7.0px;line-height:7.0px;white-space:nowrap;color:#111;font-weight:bold;left:392.7px;transform-origin:0 0;transform:scaleX(0.8634);"><span>SECRETARÍA DE PROTECCIÓN CIVIL DEL ESTADO DE VERACRUZ</span></div>
<div class="t" style="position:absolute;top:13.67px;font-size:7.0px;line-height:7.0px;white-space:nowrap;color:#111;font-weight:bold;left:406.7px;transform-origin:0 0;transform:scaleX(0.8799);"><span>SUBDIRECCIÓN DE ESTUDIOS Y PRON. METEOROLÓGICOS</span></div>
<div class="t" style="position:absolute;top:22.97px;font-size:7.0px;line-height:7.0px;white-space:nowrap;color:#111;font-weight:bold;left:458.4px;transform-origin:0 0;transform:scaleX(0.9267);"><span>Aviso Especial No_13062023 Ola de calor</span></div>
<div class="t" style="position:absolute;top:31.27px;font-size:7.0px;line-height:7.0px;white-space:nowrap;color:#111;font-weight:bold;left:432.7px;transform-origin:0 0;transform:scaleX(0.9355);"><span>XALAPA, VER., martes 13 de junio de 2023/8:00 h</span></div>
<div class="t" style="position:absolute;top:9.99px;font-size:11px;line-height:11px;white-space:nowrap;color:#fff6ee;font-weight:bold;left:241.6px;transform-origin:0 0;transform:scaleX(1.0099);"><span>Aviso Especial por</span></div>
<div class="t" style="position:absolute;top:25.69px;font-size:11px;line-height:11px;white-space:nowrap;color:#fff6ee;font-weight:bold;left:258px;transform-origin:0 0;transform:scaleX(1.0479);"><span>Ola de calor</span></div>
<div class="t p" style="position:absolute;top:49.79px;font-size:9.7px;line-height:9.7px;white-space:nowrap;color:#363636;left:14.5px;width:377.68px;text-align:justify;text-align-last:justify;transform-origin:0 0;transform:scaleX(0.95);"><span>Los sistemas de baja presión sobre el país y sus inmediaciones, mantienen un flujo de</span></div>
<div class="t p" style="position:absolute;top:62.04px;font-size:9.7px;line-height:9.7px;white-space:nowrap;color:#363636;left:14.5px;width:377.68px;text-align:justify;text-align-last:justify;transform-origin:0 0;transform:scaleX(0.95);"><span>aire cálido y húmedo del Sureste, Este y Noreste sobre la vertiente oriental del país, el</span></div>
<div class="t p" style="position:absolute;top:74.29px;font-size:9.7px;line-height:9.7px;white-space:nowrap;color:#363636;left:14.5px;width:377.68px;text-align:justify;text-align-last:justify;transform-origin:0 0;transform:scaleX(0.95);"><span>cual puede alcanzar velocidades de <b>20 a 35 km/h</b> con algunas rachas de <b>40 a 50 km/h</b>.</span></div>
<div class="t p" style="position:absolute;top:86.54px;font-size:9.7px;line-height:9.7px;white-space:nowrap;color:#363636;left:14.5px;width:377.68px;text-align:justify;text-align-last:justify;transform-origin:0 0;transform:scaleX(0.95);"><span>Por otra parte, el anticiclón establecido en los niveles medios de la atmósfera sobre el</span></div>
<div class="t p" style="position:absolute;top:98.79px;font-size:9.7px;line-height:9.7px;white-space:nowrap;color:#363636;left:14.5px;width:377.68px;text-align:justify;text-align-last:justify;transform-origin:0 0;transform:scaleX(0.95);"><span>país, favorecerá que la convección (ascenso de aire) generada por el calor de superficie</span></div>
<div class="t p" style="position:absolute;top:111.04px;font-size:9.7px;line-height:9.7px;white-space:nowrap;color:#363636;left:14.5px;width:377.68px;text-align:justify;text-align-last:justify;transform-origin:0 0;transform:scaleX(0.95);"><span>se limite, y además de que el aire también presente subsidencia (movimiento</span></div>
<div class="t p" style="position:absolute;top:123.29px;font-size:9.7px;line-height:9.7px;white-space:nowrap;color:#363636;left:14.5px;width:377.68px;text-align:justify;text-align-last:justify;transform-origin:0 0;transform:scaleX(0.95);"><span>descendente), comprimiendo y atrapando al aire cálido, y evitando el desarrollo de</span></div>
<div class="t p" style="position:absolute;top:135.54px;font-size:9.7px;line-height:9.7px;white-space:nowrap;color:#363636;left:14.5px;width:377.68px;text-align:justify;text-align-last:justify;transform-origin:0 0;transform:scaleX(0.95);"><span>nubosidad generadora de lluvias; tal situación, propiciaría un <b>ambiente cálido y</b></span></div>
<div class="t p" style="position:absolute;top:147.79px;font-size:9.7px;line-height:9.7px;white-space:nowrap;color:#363636;left:14.5px;width:377.68px;text-align:justify;text-align-last:justify;transform-origin:0 0;transform:scaleX(0.95);"><span><b>bochornoso</b> en el estado de Veracruz, con <b>sensaciones de calor</b> superiores a&nbsp; <b>40°C en</b></span></div>
<div class="t p" style="position:absolute;top:160.04px;font-size:9.7px;line-height:9.7px;white-space:nowrap;color:#363636;left:14.5px;width:377.68px;text-align:justify;text-align-last:justify;transform-origin:0 0;transform:scaleX(0.95);"><span>zonas bajas de la entidad, durante la mayor parte de esta semana, continuando la <b>ola</b></span></div>
<div class="t p" style="position:absolute;top:172.29px;font-size:9.7px;line-height:9.7px;white-space:nowrap;color:#363636;left:14.5px;transform-origin:0 0;transform:scaleX(0.95);"><span><b>de calor</b>.</span></div>
<div class="t p" style="position:absolute;top:196.79px;font-size:9.7px;line-height:9.7px;white-space:nowrap;color:#363636;left:14.5px;width:377.68px;text-align:justify;text-align-last:justify;transform-origin:0 0;transform:scaleX(0.95);"><span>Por lo anterior, se recomienda extremar las precauciones en el manejo del fuego, y</span></div>
<div class="t p" style="position:absolute;top:209.04px;font-size:9.7px;line-height:9.7px;white-space:nowrap;color:#363636;left:14.5px;transform-origin:0 0;transform:scaleX(0.9516);"><span>acatar las indicaciones de las autoridades municipales de protección civil.</span></div>
<div class="t" style="position:absolute;top:234.55px;font-size:8.8px;line-height:8.8px;white-space:nowrap;color:#ffffff;font-weight:bold;left:107.9px;transform-origin:0 0;transform:scaleX(0.9811);"><span>Pronóstico de temperaturas máximas (°C)</span></div>
<div class="t" style="position:absolute;top:253.55px;font-size:8.8px;line-height:8.8px;white-space:nowrap;color:#1a1a1a;font-weight:bold;left:-84.00px;width:300px;text-align:center;"><span>Región</span></div>
<div class="t" style="position:absolute;top:253.55px;font-size:8.8px;line-height:8.8px;white-space:nowrap;color:#1a1a1a;font-weight:bold;left:4.00px;width:300px;text-align:center;"><span>Martes 13</span></div>
<div class="t" style="position:absolute;top:253.55px;font-size:8.8px;line-height:8.8px;white-space:nowrap;color:#1a1a1a;font-weight:bold;left:69.00px;width:300px;text-align:center;"><span>Miércoles 14</span></div>
<div class="t" style="position:absolute;top:253.55px;font-size:8.8px;line-height:8.8px;white-space:nowrap;color:#1a1a1a;font-weight:bold;left:137.50px;width:300px;text-align:center;"><span>Jueves 15</span></div>
<div class="t" style="position:absolute;top:253.55px;font-size:8.8px;line-height:8.8px;white-space:nowrap;color:#1a1a1a;font-weight:bold;left:200.50px;width:300px;text-align:center;"><span>Viernes 16</span></div>
<div class="t" style="position:absolute;top:271.35px;font-size:8.8px;line-height:8.8px;white-space:nowrap;color:#1a1a1a;font-weight:bold;left:14px;transform-origin:0 0;"><span>Llanura norte-Huasteca</span></div>
<div class="t" style="position:absolute;top:271.35px;font-size:8.8px;line-height:8.8px;white-space:nowrap;color:#d81e28;font-weight:bold;left:4.00px;width:300px;text-align:center;"><span>39-44</span></div>
<div class="t" style="position:absolute;top:271.35px;font-size:8.8px;line-height:8.8px;white-space:nowrap;color:#d81e28;font-weight:bold;left:69.00px;width:300px;text-align:center;"><span>40-45</span></div>
<div class="t" style="position:absolute;top:271.35px;font-size:8.8px;line-height:8.8px;white-space:nowrap;color:#d81e28;font-weight:bold;left:137.50px;width:300px;text-align:center;"><span>40-45</span></div>
<div class="t" style="position:absolute;top:271.35px;font-size:8.8px;line-height:8.8px;white-space:nowrap;color:#d81e28;font-weight:bold;left:200.50px;width:300px;text-align:center;"><span>39-44</span></div>
<div class="t" style="position:absolute;top:289.35px;font-size:8.8px;line-height:8.8px;white-space:nowrap;color:#1a1a1a;font-weight:bold;left:14px;transform-origin:0 0;"><span>Costa norte</span></div>
<div class="t" style="position:absolute;top:289.35px;font-size:8.8px;line-height:8.8px;white-space:nowrap;color:#d81e28;font-weight:bold;left:4.00px;width:300px;text-align:center;"><span>36-39</span></div>
<div class="t" style="position:absolute;top:289.35px;font-size:8.8px;line-height:8.8px;white-space:nowrap;color:#d81e28;font-weight:bold;left:69.00px;width:300px;text-align:center;"><span>37-40</span></div>
<div class="t" style="position:absolute;top:289.35px;font-size:8.8px;line-height:8.8px;white-space:nowrap;color:#d81e28;font-weight:bold;left:137.50px;width:300px;text-align:center;"><span>37-40</span></div>
<div class="t" style="position:absolute;top:289.35px;font-size:8.8px;line-height:8.8px;white-space:nowrap;color:#d81e28;font-weight:bold;left:200.50px;width:300px;text-align:center;"><span>36-39</span></div>
<div class="t" style="position:absolute;top:307.35px;font-size:8.8px;line-height:8.8px;white-space:nowrap;color:#1a1a1a;font-weight:bold;left:14px;transform-origin:0 0;"><span>Montaña central</span></div>
<div class="t" style="position:absolute;top:307.35px;font-size:8.8px;line-height:8.8px;white-space:nowrap;color:#d81e28;font-weight:bold;left:4.00px;width:300px;text-align:center;"><span>30-33</span></div>
<div class="t" style="position:absolute;top:307.35px;font-size:8.8px;line-height:8.8px;white-space:nowrap;color:#d81e28;font-weight:bold;left:69.00px;width:300px;text-align:center;"><span>31-34</span></div>
<div class="t" style="position:absolute;top:307.35px;font-size:8.8px;line-height:8.8px;white-space:nowrap;color:#d81e28;font-weight:bold;left:137.50px;width:300px;text-align:center;"><span>31-34</span></div>
<div class="t" style="position:absolute;top:307.35px;font-size:8.8px;line-height:8.8px;white-space:nowrap;color:#d81e28;font-weight:bold;left:200.50px;width:300px;text-align:center;"><span>32-35</span></div>
<div class="t" style="position:absolute;top:325.35px;font-size:8.8px;line-height:8.8px;white-space:nowrap;color:#1a1a1a;font-weight:bold;left:14px;transform-origin:0 0;"><span>Costa-llanura central</span></div>
<div class="t" style="position:absolute;top:325.35px;font-size:8.8px;line-height:8.8px;white-space:nowrap;color:#d81e28;font-weight:bold;left:4.00px;width:300px;text-align:center;"><span>34-39</span></div>
<div class="t" style="position:absolute;top:325.35px;font-size:8.8px;line-height:8.8px;white-space:nowrap;color:#d81e28;font-weight:bold;left:69.00px;width:300px;text-align:center;"><span>34-39</span></div>
<div class="t" style="position:absolute;top:325.35px;font-size:8.8px;line-height:8.8px;white-space:nowrap;color:#d81e28;font-weight:bold;left:137.50px;width:300px;text-align:center;"><span>34-39</span></div>
<div class="t" style="position:absolute;top:325.35px;font-size:8.8px;line-height:8.8px;white-space:nowrap;color:#d81e28;font-weight:bold;left:200.50px;width:300px;text-align:center;"><span>34-39</span></div>
<div class="t" style="position:absolute;top:343.35px;font-size:8.8px;line-height:8.8px;white-space:nowrap;color:#1a1a1a;font-weight:bold;left:14px;transform-origin:0 0;"><span>Zona sur</span></div>
<div class="t" style="position:absolute;top:343.35px;font-size:8.8px;line-height:8.8px;white-space:nowrap;color:#d81e28;font-weight:bold;left:4.00px;width:300px;text-align:center;"><span>37-43</span></div>
<div class="t" style="position:absolute;top:343.35px;font-size:8.8px;line-height:8.8px;white-space:nowrap;color:#d81e28;font-weight:bold;left:69.00px;width:300px;text-align:center;"><span>38-45</span></div>
<div class="t" style="position:absolute;top:343.35px;font-size:8.8px;line-height:8.8px;white-space:nowrap;color:#d81e28;font-weight:bold;left:137.50px;width:300px;text-align:center;"><span>38-45</span></div>
<div class="t" style="position:absolute;top:343.35px;font-size:8.8px;line-height:8.8px;white-space:nowrap;color:#d81e28;font-weight:bold;left:200.50px;width:300px;text-align:center;"><span>37-43</span></div>
<div class="t" style="position:absolute;top:369.29px;font-size:8.4px;line-height:8.4px;white-space:nowrap;color:#111;font-weight:bold;left:14.3px;transform-origin:0 0;transform:scaleX(0.9428);"><span>Por las condiciones atmosféricas previstas, se recomienda a toda la población:</span></div>
<div class="t" style="position:absolute;top:392.29px;font-size:8.4px;line-height:8.4px;white-space:nowrap;color:#222;font-weight:bold;left:14.6px;transform-origin:0 0;"><span>•</span></div>
<div class="t" style="position:absolute;top:391.87px;font-size:8.9px;line-height:8.9px;white-space:nowrap;color:#333333;left:25.8px;transform-origin:0 0;transform:scaleX(0.9391);"><span>Hidratarse y no exponerse a periodos prolongados del sol.</span></div>
<div class="t" style="position:absolute;top:403.09px;font-size:8.4px;line-height:8.4px;white-space:nowrap;color:#222;font-weight:bold;left:14.6px;transform-origin:0 0;"><span>•</span></div>
<div class="t" style="position:absolute;top:402.67px;font-size:8.9px;line-height:8.9px;white-space:nowrap;color:#333333;left:25.8px;transform-origin:0 0;transform:scaleX(0.9432);"><span>Usar sombrilla y protector solar, prendas de manga larga y de tela delgada.</span></div>
<div class="t" style="position:absolute;top:413.89px;font-size:8.4px;line-height:8.4px;white-space:nowrap;color:#222;font-weight:bold;left:14.6px;transform-origin:0 0;"><span>•</span></div>
<div class="t" style="position:absolute;top:413.89px;font-size:8.4px;line-height:8.4px;white-space:nowrap;color:#111;font-weight:bold;left:25.8px;transform-origin:0 0;transform:scaleX(0.9451);"><span>Hacer uso eficiente del agua</span></div>
<div class="t" style="position:absolute;top:424.69px;font-size:8.4px;line-height:8.4px;white-space:nowrap;color:#222;font-weight:bold;left:14.6px;transform-origin:0 0;"><span>•</span></div>
<div class="t" style="position:absolute;top:424.69px;font-size:8.4px;line-height:8.4px;white-space:nowrap;color:#111;font-weight:bold;left:25.8px;transform-origin:0 0;transform:scaleX(0.9408);"><span>Evitar el desarrollo de incendios forestales, pastizales y de basureros.</span></div>
<div class="t" style="position:absolute;top:435.49px;font-size:8.4px;line-height:8.4px;white-space:nowrap;color:#222;font-weight:bold;left:14.6px;transform-origin:0 0;"><span>•</span></div>
<div class="t" style="position:absolute;top:435.07px;font-size:8.9px;line-height:8.9px;white-space:nowrap;color:#333333;left:25.8px;transform-origin:0 0;transform:scaleX(0.9347);"><span>Brindar atención especial a infantes, personas de la tercera edad y mascotas.</span></div>
<div class="t" style="position:absolute;top:422.81px;font-size:6.6px;line-height:6.6px;white-space:nowrap;color:#1a1a1a;font-weight:bold;left:390.5px;transform-origin:0 0;transform:scaleX(0.9768);"><span>Síganos a través de Facebook: <u style="color:#2a35a8">Ceec Protección Civil</u>&nbsp; y en Twitter:</span></div>
<div class="t" style="position:absolute;top:432.01px;font-size:6.6px;line-height:6.6px;white-space:nowrap;color:#1a1a1a;font-weight:bold;left:390.5px;transform-origin:0 0;transform:scaleX(0.9799);"><span><u style="color:#2a35a8">@spcver</u>.&nbsp; TELÉFONO (CEPM):&nbsp; 01 (228) 1414538 y 1414523</span></div>
<div class="t" style="position:absolute;top:440.61px;font-size:6.6px;line-height:6.6px;white-space:nowrap;color:#1a1a1a;font-weight:bold;left:390.5px;transform-origin:0 0;transform:scaleX(0.9790);"><span>Elaboraron: José Llanos/Federico Acevedo</span></div>
</body></html>
